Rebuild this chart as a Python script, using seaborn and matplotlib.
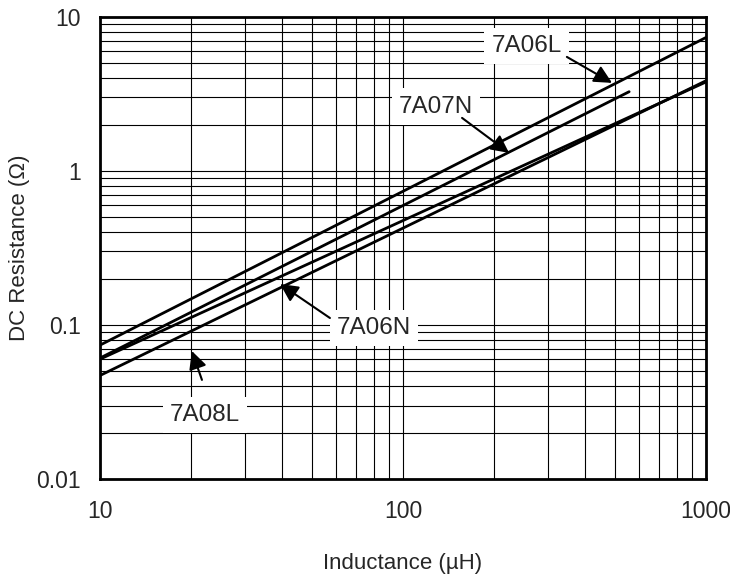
import matplotlib
matplotlib.use("Agg")
import matplotlib.pyplot as plt
import matplotlib.ticker as mticker
import seaborn as sns
import pandas as pd

# ---- data ----
series_names = ["7A06L", "7A07N", "7A06N", "7A08L"]
L_7A06L = [10, 1000]
R_7A06L = [0.074, 7.35]
L_7A07N = [10, 558]
R_7A07N = [0.061, 3.27]
L_7A06N = [10, 1000]
R_7A06N = [0.060, 3.78]
L_7A08L = [10, 1000]
R_7A08L = [0.047, 3.85]

x_ticks = [10, 100, 1000]
x_tick_labels = ["10", "100", "1000"]
y_ticks = [0.01, 0.1, 1, 10]
y_tick_labels = ["0.01", "0.1", "1", "10"]

rows = []
for name, Ls, Rs in [("7A06L", L_7A06L, R_7A06L), ("7A07N", L_7A07N, R_7A07N),
                     ("7A06N", L_7A06N, R_7A06N), ("7A08L", L_7A08L, R_7A08L)]:
    for l, r in zip(Ls, Rs):
        rows.append({"series": name, "L": l, "R": r})
df = pd.DataFrame(rows)

sns.set_style("white")
plt.rcParams['font.family'] = ['Liberation Sans', 'DejaVu Sans']

fig = plt.figure(figsize=(7.3, 5.74), dpi=100)
ax = fig.add_axes([0.137, 0.1655, 0.830, 0.805])

sns.lineplot(data=df, x="L", y="R", units="series", estimator=None,
             color="black", linewidth=2.0, ax=ax, legend=False, zorder=3)

ax.set_xscale("log")
ax.set_yscale("log")
ax.set_xlim(10, 1000)
ax.set_ylim(0.01, 10)

ax.xaxis.set_major_locator(mticker.FixedLocator(x_ticks))
ax.xaxis.set_major_formatter(mticker.FixedFormatter(x_tick_labels))
ax.yaxis.set_major_locator(mticker.FixedLocator(y_ticks))
ax.yaxis.set_major_formatter(mticker.FixedFormatter(y_tick_labels))
ax.xaxis.set_minor_locator(mticker.LogLocator(base=10, subs=range(2, 10)))
ax.yaxis.set_minor_locator(mticker.LogLocator(base=10, subs=range(2, 10)))
ax.xaxis.set_minor_formatter(mticker.NullFormatter())
ax.yaxis.set_minor_formatter(mticker.NullFormatter())

ax.grid(which="both", color="black", linewidth=0.8, zorder=1)
ax.set_axisbelow(True)
ax.tick_params(which="both", length=0)
ax.tick_params(axis="x", labelsize=16.5, pad=15)
ax.tick_params(axis="y", labelsize=16.5, pad=14)

for s in ax.spines.values():
    s.set_color("black")
    s.set_linewidth(2.0)
    s.set_zorder(5)

ax.set_xlabel("Inductance (µH)", fontsize=16, labelpad=22)
ax.set_ylabel("DC Resistance (Ω)", fontsize=16, labelpad=4)

# ---- annotations ----
labels_pos = {
    "7A06L": (256, 6.48),
    "7A07N": (128.5, 2.61),
    "7A06N": (80.2, 0.0957),
    "7A08L": (22.2, 0.026),
}
arrows = {
    "7A06L": ((347.6, 5.5), (490, 3.73)),
    "7A07N": ((156.7, 2.21), (224, 1.31)),
    "7A06N": ((57.4, 0.111), (39.3, 0.1845)),
    "7A08L": ((21.7, 0.044), (20.1, 0.0678)),
}
for name in series_names:
    tx, ty = labels_pos[name]
    ax.text(tx, ty, name, fontsize=17.5, ha="center", va="center", zorder=6,
            bbox=dict(boxstyle="square,pad=0.3", facecolor="white", edgecolor="none"))
    (sx, sy), (ex, ey) = arrows[name]
    ax.annotate("", xy=(ex, ey), xytext=(sx, sy), zorder=7,
                arrowprops=dict(arrowstyle="-|>", color="black", lw=1.5,
                                mutation_scale=27, shrinkA=0, shrinkB=0))

fig.savefig("out.png", dpi=100)
